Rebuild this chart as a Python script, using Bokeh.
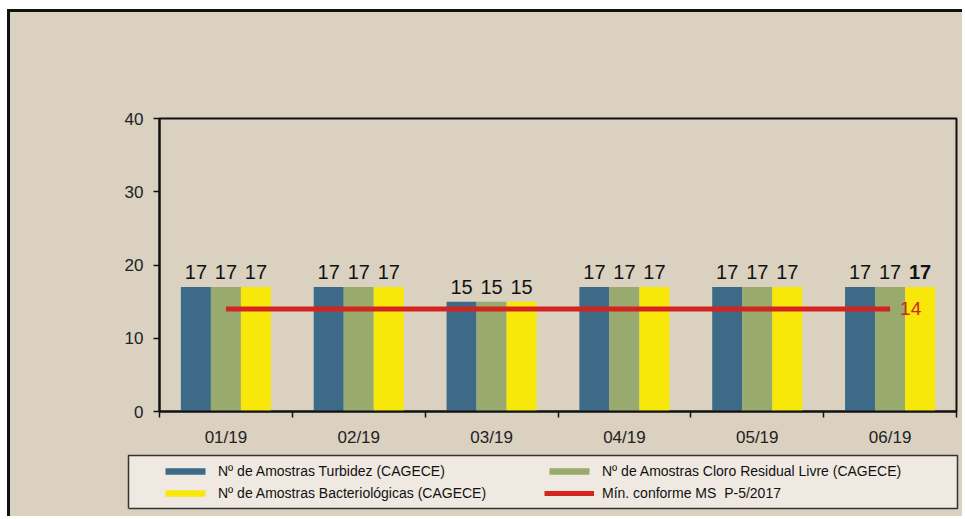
import numpy as np
from bokeh.plotting import figure
from bokeh.layouts import column
from bokeh.models import (ColumnDataSource, FixedTicker, Legend, LegendItem, Range1d)
from bokeh.core.properties import value
from bokeh.embed import file_html
from bokeh.resources import INLINE

months = ["01/19", "02/19", "03/19", "04/19", "05/19", "06/19"]
turbidez = [17, 17, 15, 17, 17, 17]
cloro = [17, 17, 15, 17, 17, 17]
bacterio = [17, 17, 15, 17, 17, 17]
minimo = [14, 14, 14, 14, 14, 14]
y_ticks = [0, 10, 20, 30, 40]

series_names = ["Nº de Amostras Turbidez (CAGECE)",
                "Nº de Amostras Cloro Residual Livre (CAGECE)",
                "Nº de Amostras Bacteriológicas (CAGECE)"]
line_name = "Mín. conforme MS  P-5/2017"

FONT = "Liberation Sans"
BG = "#dad1c1"
colors = ["#3d6a86", "#98aa6e", "#f7e80a"]
RED = "#d42420"

n = len(months)
centers = np.arange(n) + 0.5
bw = 0.226
offsets = [-bw, 0.0, bw]
series = [turbidez, cloro, bacterio]

p = figure(width=955, height=444, output_backend="svg", toolbar_location=None,
           x_range=Range1d(0, n), y_range=Range1d(0, 40),
           min_border_left=149, min_border_right=9, min_border_top=106,
           min_border_bottom=45)
p.frame_align = False
p.styles = {"border-left": "3px solid #111", "border-top": "3px solid #111"}
p.background_fill_color = BG
p.border_fill_color = BG
p.outline_line_color = "#111111"
p.outline_line_width = 2
p.grid.visible = False

for vals, off, col in zip(series, offsets, colors):
    src = ColumnDataSource(dict(x=centers + off, top=vals))
    p.vbar(x="x", top="top", bottom=0, width=bw, source=src,
           fill_color=col, line_color=None)

lsrc = ColumnDataSource(dict(x=centers, y=minimo))
p.line("x", "y", source=lsrc, line_color=RED, line_width=5)

# value labels
for i, (vals, off) in enumerate(zip(series, offsets)):
    styles = ["normal"] * n
    if i == 2:
        styles[-1] = "bold"
    src = ColumnDataSource(dict(x=centers + off, y=vals,
                                lab=[str(v) for v in vals], st=styles))
    p.text("x", "y", text="lab", source=src, text_font=value(FONT),
           text_font_size="20px", text_color="#111111", text_align="center",
           text_baseline="bottom", y_offset=-8, text_font_style="st")

p.text(x=[centers[-1]], y=[minimo[-1]], text=[str(minimo[-1])],
       text_font=value(FONT), text_font_size="19px", text_color=RED,
       text_align="left", text_baseline="middle", x_offset=10)

# axes
xa = p.xaxis[0]
xa.ticker = FixedTicker(ticks=list(centers), minor_ticks=list(range(n + 1)))
xa.major_label_overrides = {float(c): m for c, m in zip(centers, months)}
xa.major_tick_line_color = None
xa.major_tick_out = 0
xa.major_tick_in = 0
xa.minor_tick_out = 6
xa.minor_tick_in = 0
xa.minor_tick_line_color = "#111111"
xa.minor_tick_line_width = 1.5
xa.axis_line_color = "#111111"
xa.axis_line_width = 2
xa.major_label_standoff = 10
xa.major_label_text_font = FONT
xa.major_label_text_font_size = "17px"
xa.major_label_text_color = "#222222"

ya = p.yaxis[0]
ya.ticker = FixedTicker(ticks=y_ticks)
ya.minor_tick_line_color = None
ya.major_tick_out = 6
ya.major_tick_in = 0
ya.major_tick_line_color = "#111111"
ya.major_tick_line_width = 1.5
ya.axis_line_color = "#111111"
ya.axis_line_width = 2
ya.major_label_standoff = 10
ya.major_label_text_font = FONT
ya.major_label_text_font_size = "17px"
ya.major_label_text_color = "#222222"

# legend panel (second figure, framed box)
pl = figure(width=955, height=63, output_backend="svg", toolbar_location=None,
            x_range=Range1d(100, 101), y_range=Range1d(100, 101),
            min_border_left=118, min_border_right=8, min_border_top=2,
            min_border_bottom=8)
pl.frame_align = False
pl.styles = {"border-left": "3px solid #111"}
pl.axis.visible = False
pl.grid.visible = False
pl.background_fill_color = "#efe9e1"
pl.border_fill_color = BG
pl.outline_line_color = "#333333"
pl.outline_line_width = 1.5

leg_r = []
for vals, col in zip(series, colors):
    r = pl.vbar(x=list(centers), top=vals, width=bw,
                fill_color=col, line_color=None)
    leg_r.append(r)
leg_line = pl.line(x=list(centers), y=minimo, line_color=RED, line_width=5)

legend = Legend(items=[LegendItem(label=series_names[0], renderers=[leg_r[0]]),
                       LegendItem(label=series_names[2], renderers=[leg_r[2]]),
                       LegendItem(label=series_names[1], renderers=[leg_r[1]]),
                       LegendItem(label=line_name, renderers=[leg_line])],
                ncols=2, location=(32, 5), margin=0, padding=0, spacing=2,
                glyph_width=50, glyph_height=8, label_height=20,
                label_width=324, label_standoff=8,
                label_text_font=FONT, label_text_font_size="14px",
                label_text_color="#111111",
                background_fill_alpha=0, border_line_color=None)
pl.add_layout(legend, "center")

layout = column(p, pl, spacing=0, margin=(9, 0, 0, 7))
layout.styles = {"background-color": BG}

open("out.html", "w").write(file_html(layout, INLINE))
